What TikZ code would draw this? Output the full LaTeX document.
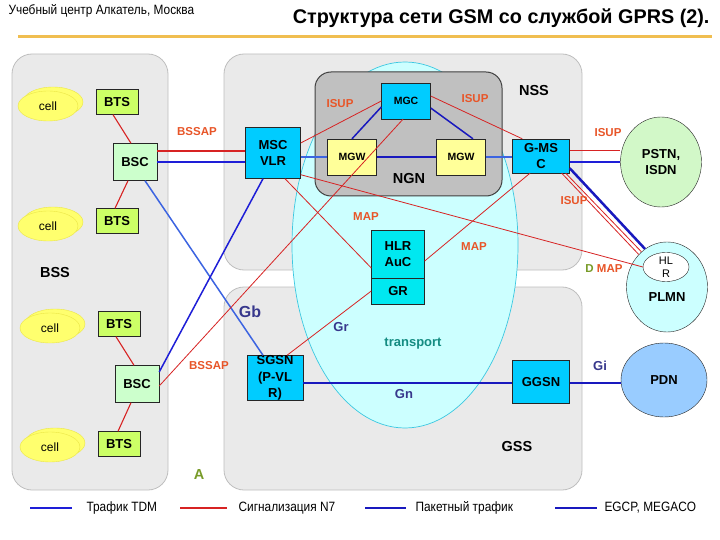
\documentclass[tikz,border=0pt]{standalone}
\usepackage{fontspec}
\setmainfont{Liberation Sans}
\newfontfamily\narrowfont[FakeStretch=0.88]{Liberation Sans}
\usetikzlibrary{shapes.geometric,shadows}

\definecolor{panelfill}{RGB}{234,234,234}
\definecolor{paneldraw}{RGB}{190,190,190}
\definecolor{ngnfill}{RGB}{192,192,192}
\definecolor{trfill}{RGB}{204,255,255}
\definecolor{trdraw}{RGB}{60,200,225}
\definecolor{cellfill}{RGB}{255,255,110}
\definecolor{celldraw}{RGB}{235,230,70}
\definecolor{btsfill}{RGB}{204,255,102}
\definecolor{bscfill}{RGB}{204,255,204}
\definecolor{mscfill}{RGB}{0,204,255}
\definecolor{hlrfill}{RGB}{0,232,240}
\definecolor{mgwfill}{RGB}{255,255,153}
\definecolor{pstnfill}{RGB}{210,248,200}
\definecolor{plmnfill}{RGB}{204,255,255}
\definecolor{pdnfill}{RGB}{153,204,255}
\definecolor{sigred}{RGB}{215,35,35}
\definecolor{protored}{RGB}{232,85,40}
\definecolor{tdmblue}{RGB}{30,30,215}
\definecolor{pktblue}{RGB}{25,25,190}
\definecolor{gbblue}{RGB}{60,100,225}
\definecolor{ifaceblue}{RGB}{55,55,140}
\definecolor{teal}{RGB}{20,140,130}
\definecolor{olive}{RGB}{120,155,40}
\definecolor{orangeline}{RGB}{240,190,80}

\tikzset{
  panel/.style={draw=paneldraw, fill=panelfill, rounded corners=20pt, line width=0.8pt},
  cellnode/.style={ellipse, draw=celldraw, fill=cellfill, minimum width=60pt, minimum height=30pt,
    inner sep=0pt, font=\fontsize{12}{14}\selectfont, copy shadow={shadow xshift=5pt, shadow yshift=4pt}},
  btsbox/.style={draw=black!85, fill=btsfill, minimum width=42pt, minimum height=25pt, inner sep=0pt,
    font=\bfseries\fontsize{13}{15}\selectfont},
  bscbox/.style={btsbox, fill=bscfill, minimum width=44pt, minimum height=37pt},
  netbox/.style={draw=black!85, fill=mscfill, inner sep=0pt, align=center,
    font=\bfseries\fontsize{13}{16}\selectfont},
  mgwbox/.style={netbox, fill=mgwfill, minimum width=49pt, minimum height=36pt,
    font=\bfseries\fontsize{10.5}{12}\selectfont},
  netcirc/.style={ellipse, draw=black!85, inner sep=0pt, align=center,
    font=\bfseries\fontsize{13}{16}\selectfont},
  sig/.style={draw=sigred, line width=1.1pt},
  thinsig/.style={draw=sigred, line width=0.8pt},
  tdm/.style={draw=tdmblue, line width=1.5pt},
  pkt/.style={draw=pktblue, line width=1.5pt},
  gb/.style={draw=gbblue, line width=1.5pt},
  proto/.style={text=protored, font=\bfseries\fontsize{11.5}{13}\selectfont},
  iface/.style={text=ifaceblue, font=\bfseries\fontsize{13}{15}\selectfont},
  zone/.style={font=\bfseries\fontsize{14.5}{16}\selectfont},
  legtext/.style={anchor=west, font=\narrowfont\fontsize{13.5}{15}\selectfont},
}

\begin{document}
\begin{tikzpicture}[x=1pt,y=-1pt]
\useasboundingbox[fill=white] (0,0) rectangle (720,540);

% header
\node[anchor=west, font=\narrowfont\fontsize{13.5}{15}\selectfont] (hdr) at (5,11) {Учебный центр Алкатель, Москва};
\node[anchor=east, font=\bfseries\fontsize{19.8}{22}\selectfont] (title) at (713,18) {Структура сети GSM со службой GPRS (2).};
\draw[orangeline, line width=3pt] (18,37) -- (712,37);

% subsystems
\draw[panel] (12,54) rectangle (168,490);
\draw[panel] (224,54) rectangle (582,270);
\draw[panel] (224,287) rectangle (582,490);
\draw[draw=trdraw, fill=trfill, line width=0.7pt] (405,245) ellipse [x radius=113, y radius=183];
\draw[draw=black!75, fill=ngnfill, rounded corners=16pt, line width=1pt] (315,72) rectangle (502,196);

% BSS
\node[cellnode] (cell1) at (48,106) {cell};
\node[cellnode] (cell2) at (48,226) {cell};
\node[cellnode] (cell3) at (50,328) {cell};
\node[cellnode] (cell4) at (50,447) {cell};
\node[btsbox] (bts1) at (117,102) {BTS};
\node[btsbox] (bts2) at (117,221) {BTS};
\node[btsbox] (bts3) at (119,324) {BTS};
\node[btsbox] (bts4) at (119,444) {BTS};
\node[bscbox] (bsc1) at (135,162) {BSC};
\node[bscbox] (bsc2) at (137,384) {BSC};

% NSS / NGN
\node[netbox, minimum width=55pt, minimum height=51pt] (msc) at (273,153) {MSC\\VLR};
\node[mgwbox, fill=mscfill] (mgc) at (406,101) {MGC};
\node[mgwbox] (mgw1) at (352,157) {MGW};
\node[mgwbox] (mgw2) at (461,157) {MGW};
\node[netbox, minimum width=57pt, minimum height=34pt] (gmsc) at (541,156) {G-MS\\C};
\node[netbox, fill=hlrfill, minimum width=53pt, minimum height=48pt] (hlr) at (398,254) {HLR\\AuC};
\node[netbox, fill=hlrfill, minimum width=53pt, minimum height=26pt] (gr) at (398,291) {GR};

% GSS
\node[netbox, minimum width=56pt, minimum height=45pt] (sgsn) at (275,378) {};
\node[align=center, font=\bfseries\fontsize{13}{16.5}\selectfont] (sgsnlbl) at (275,378) {SGSN\\(P-VL\\R)};
\node[netbox, minimum width=57pt, minimum height=43pt] (ggsn) at (541,382) {GGSN};

% external networks
\node[netcirc, fill=pstnfill, minimum width=81pt, minimum height=90pt] (pstn) at (661,162) {PSTN,\\ISDN};
\node[netcirc, fill=plmnfill, minimum width=81pt, minimum height=90pt] (plmn) at (667,287) {};
\node[font=\bfseries\fontsize{13}{15}\selectfont] (plmnlbl) at (667,297) {PLMN};
\node[ellipse, draw=black!85, fill=white, minimum width=46pt, minimum height=28pt, inner sep=0pt,
  align=center, font=\fontsize{11}{13}\selectfont] (hlrp) at (666,267) {HL\\R};
\node[netcirc, fill=pdnfill, minimum width=86pt, minimum height=74pt] (pdn) at (664,380) {PDN};

% BSS links
\draw[sig] ([xshift=-4pt]bts1.south) -- ([xshift=-4pt]bsc1.north);
\draw[sig] ([xshift=-7pt]bsc1.south) -- ([xshift=-2pt]bts2.north);
\draw[sig] ([xshift=-3pt]bts3.south) -- ([xshift=-3pt]bsc2.north);
\draw[sig] ([xshift=-6pt]bsc2.south) -- ([xshift=-1pt]bts4.north);

% A and Gb
\draw[sig] ([yshift=11pt]bsc1.east) -- ([yshift=11pt]bsc1.east -| msc.west);
\draw[tdm] (bsc1.east) -- (bsc1.east -| msc.west);
\draw[gb] ([xshift=10pt]bsc1.south) -- ([xshift=-12pt]sgsn.north);
\draw[tdm] ([yshift=12pt]bsc2.east) -- ([xshift=-10pt]msc.south);
\draw[thinsig] ([yshift=-2pt]bsc2.east) -- ([xshift=-3pt]mgc.south);

% NGN
\draw[thinsig] ([yshift=10pt]msc.east) -- (mgc.west);
\draw[gb] (mgw1.west -| msc.east) -- (mgw1.west);
\draw[pkt, line width=2.2pt] (mgw1) -- (mgw2);
\draw[gb] (mgw2.east) -- (mgw2.east -| gmsc.west);
\draw[pkt] ([yshift=-6pt]mgc.west) -- (mgw1.north);
\draw[pkt] ([yshift=-7pt]mgc.east) -- ([xshift=12pt]mgw2.north);
\draw[thinsig] ([yshift=5pt]mgc.east) -- ([xshift=10pt]gmsc.north west);

% MAP
\draw[thinsig] ([yshift=4pt]msc.south east) -- (hlrp.west);
\draw[thinsig] ([xshift=12pt]msc.south) -- ([yshift=-14pt]hlr.west);
\draw[thinsig] ([xshift=-11pt]gmsc.south) -- ([yshift=-7pt]hlr.east);
\draw[thinsig] (gr.west) -- ([xshift=12pt]sgsn.north);

% Gn, Gi
\draw[pkt] ([yshift=-1pt]ggsn.west -| sgsn.east) -- ([yshift=-1pt]ggsn.west);
\draw[pkt] ([yshift=-1pt]ggsn.east) -- ([yshift=-1pt]ggsn.east -| pdn.west);

% G-MSC to external
\draw[thinsig] ([yshift=6pt]gmsc.east) -- ([yshift=6pt]gmsc.east -| pstn.west);
\draw[tdm] ([yshift=-6pt]gmsc.east) -- ([yshift=-6pt]gmsc.east -| pstn.west);
\draw[pkt, line width=2.5pt] ([yshift=5pt]gmsc.south east) -- (plmn.120);
\draw[thinsig] ([xshift=-4pt]gmsc.south east) -- (plmn.126);
\draw[thinsig] ([xshift=-8pt]gmsc.south east) -- (plmn.131);

% labels
\node[proto] (bssap1) at (197,132) {BSSAP};
\node[proto] (bssap2) at (209,366) {BSSAP};
\node[proto] (isup1) at (340,104) {ISUP};
\node[proto] (isup2) at (475,99) {ISUP};
\node[proto] (isup3) at (608,133) {ISUP};
\node[proto] (isup4) at (574,201) {ISUP};
\node[proto] (map1) at (366,217) {MAP};
\node[proto] (map2) at (474,247) {MAP};
\node[proto] (dmap) at (604,269) {\textcolor{olive}{D} MAP};
\node[iface, font=\bfseries\fontsize{16}{18}\selectfont] (gblbl) at (250,312) {Gb};
\node[iface] (grlbl) at (341,327) {Gr};
\node[iface] (gnlbl) at (404,394) {Gn};
\node[iface] (gilbl) at (600,366) {Gi};
\node[text=teal, font=\bfseries\fontsize{13}{15}\selectfont] (trlbl) at (413,344) {transport};
\node[zone] (nsslbl) at (534,91) {NSS};
\node[zone] (gsslbl) at (517,447) {GSS};
\node[zone] (bsslbl) at (55,273) {BSS};
\node[zone] (ngnlbl) at (409,179) {NGN};
\node[zone, text=olive] (albl) at (199,475) {A};

% legend
\draw[tdm, line width=2pt] (30,508) -- (72,508);
\node[legtext] (leg1) at (83,508) {Трафик TDM};
\draw[sig, line width=2pt] (180,508) -- (227,508);
\node[legtext] (leg2) at (235,508) {Сигнализация N7};
\draw[pkt, line width=2pt] (365,508) -- (406,508);
\node[legtext] (leg3) at (412,508) {Пакетный трафик};
\draw[pkt, line width=2pt] (555,508) -- (597,508);
\node[legtext] (leg4) at (601,508) {EGCP, MEGACO};
\end{tikzpicture}
\end{document}
